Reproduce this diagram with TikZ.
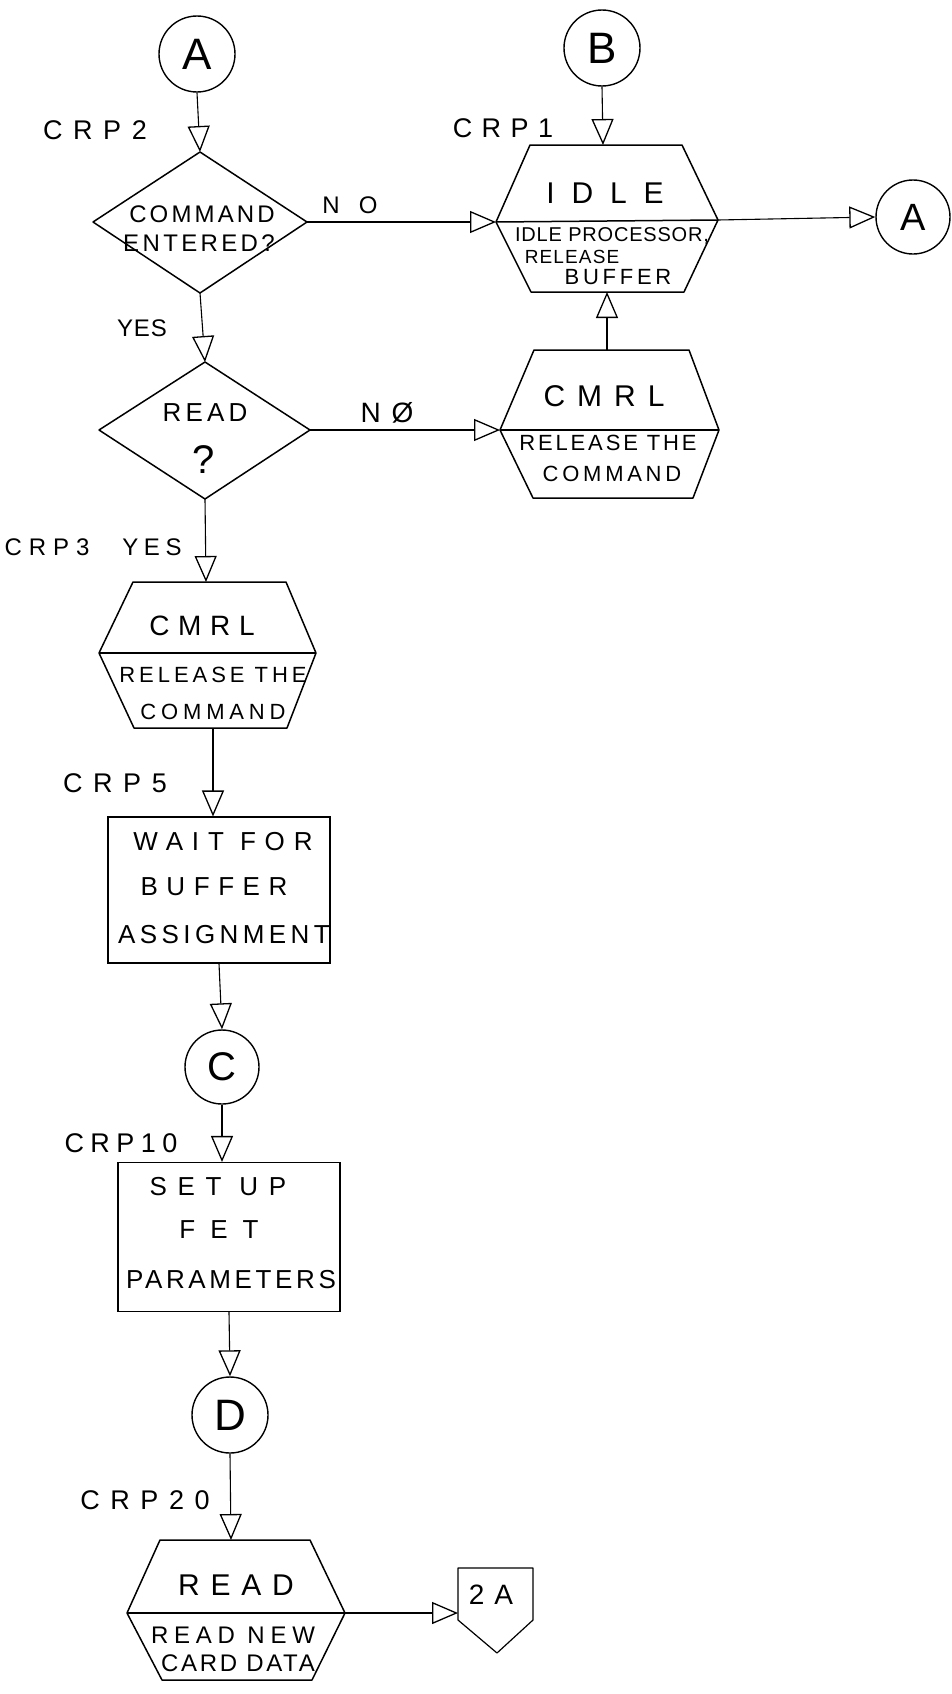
\documentclass[tikz,border=0pt]{standalone}
\usepackage{fontspec}
\usetikzlibrary{arrows.meta}
\newfontfamily\hand{Liberation Sans}
\newcommand{\handtxt}[3]{{\hand\fontsize{#1}{#1}\selectfont\addfontfeatures{LetterSpace=#2}#3}}
\begin{document}
\begin{tikzpicture}[x=1pt,y=-1pt,
  shp/.style={draw, line width=1.5pt, line join=round},
  boxshape/.style={draw, line width=1.1pt, inner sep=0pt},
  ocirc/.style={circle, draw, line width=1.4pt, inner sep=0pt, minimum size=#1},
  conn/.style={draw, line width=1.1pt, -{Triangle[open, length=26pt, width=22pt, line width=1.3pt]}},
  txt/.style={inner sep=0pt, anchor=center}]
\fill[white] (0,0) rectangle (951,1694);
\useasboundingbox (0,0) rectangle (951,1694);

% ---------- connector circles ----------
\node[ocirc=76pt] (cA) at (197,54) {\handtxt{44}{0}{A}};
\node[ocirc=76pt] (cB) at (602,48) {\handtxt{44}{0}{B}};
\node[ocirc=74pt] (cA2) at (913,217) {\handtxt{38}{0}{A}};
\node[ocirc=74pt] (cC) at (222,1067) {\handtxt{40}{0}{C}};
\node[ocirc=76pt] (cD) at (230,1415) {\handtxt{44}{0}{D}};

% ---------- decision 1 ----------
\coordinate (d1N) at (200,152);
\coordinate (d1E) at (307,222);
\coordinate (d1S) at (200,293);
\coordinate (d1W) at (93,222);
\draw[shp] (d1N) -- (d1E) -- (d1S) -- (d1W) -- cycle;
\node[txt] (d1t1) at (202,214) {\handtxt{24}{13}{COMMAND}};
\node[txt] (d1t2) at (199,243) {\handtxt{24}{14}{ENTERED?}};

% ---------- decision 2 ----------
\coordinate (d2N) at (205,362);
\coordinate (d2E) at (310,430);
\coordinate (d2S) at (205,499);
\coordinate (d2W) at (99,430);
\draw[shp] (d2N) -- (d2E) -- (d2S) -- (d2W) -- cycle;
\node[txt] (d2t1) at (205,413) {\handtxt{26}{16}{READ}};
\node[txt] (d2t2) at (204,460) {\handtxt{40}{0}{?}};

% ---------- IDLE ----------
\coordinate (iTL) at (530,145);
\coordinate (iTR) at (682,145);
\coordinate (iR) at (718,220);
\coordinate (iBR) at (684,292);
\coordinate (iBL) at (531,292);
\coordinate (iL) at (496,222);
\coordinate (iT) at (603,145);
\coordinate (iB) at (607,292);
\draw[shp] (iTL) -- (iTR) -- (iR) -- (iBR) -- (iBL) -- (iL) -- cycle;
\draw[shp] (iL) -- (iR);
\node[txt] (it1) at (605,193) {\handtxt{30}{56}{IDLE}};
\node[txt] (it2) at (612,236) {\handtxt{20}{4}{IDLE PROCESSOR,}};
\node[txt] (it3) at (572,257) {\handtxt{19}{6}{RELEASE}};
\node[txt] (it4) at (618,277) {\handtxt{22}{17}{BUFFER}};

% ---------- CMRL (right) ----------
\coordinate (rTL) at (534,350);
\coordinate (rTR) at (689,350);
\coordinate (rR) at (719,430);
\coordinate (rBR) at (693,498);
\coordinate (rBL) at (533,498);
\coordinate (rL) at (500,430);
\coordinate (rT) at (607,350);
\draw[shp] (rTL) -- (rTR) -- (rR) -- (rBR) -- (rBL) -- (rL) -- cycle;
\draw[shp] (rL) -- (rR);
\node[txt] (rt1) at (604,396) {\handtxt{30}{40}{CMRL}};
\node[txt] (rt2) at (608,443) {\handtxt{22}{13}{RELEASE THE}};
\node[txt] (rt3) at (612,474) {\handtxt{22}{17}{COMMAND}};

% ---------- CMRL (left) ----------
\coordinate (lTL) at (133,582);
\coordinate (lTR) at (286,582);
\coordinate (lR) at (316,653);
\coordinate (lBR) at (287,728);
\coordinate (lBL) at (134,728);
\coordinate (lL) at (99,653);
\coordinate (lT) at (206,582);
\coordinate (lB) at (213,728);
\draw[shp] (lTL) -- (lTR) -- (lR) -- (lBR) -- (lBL) -- (lL) -- cycle;
\draw[shp] (lL) -- (lR);
\node[txt] (lt1) at (202,626) {\handtxt{28}{31}{CMRL}};
\node[txt] (lt2) at (213,675) {\handtxt{22}{18}{RELEASE THE}};
\node[txt] (lt3) at (213,712) {\handtxt{22}{22}{COMMAND}};

% ---------- WAIT box ----------
\node[boxshape, minimum width=222pt, minimum height=146pt] (wait) at (219,890) {};
\node[txt] (wt1) at (223,842) {\handtxt{26}{34}{WAIT FOR}};
\node[txt] (wt2) at (214,887) {\handtxt{26}{33}{BUFFER}};
\node[txt] (wt3) at (224,935) {\handtxt{26}{17}{ASSIGNMENT}};

% ---------- SET UP box ----------
\node[boxshape, minimum width=222pt, minimum height=149pt] (setup) at (229,1237) {};
\node[txt] (st1) at (218,1187) {\handtxt{26}{41}{SET UP}};
\node[txt] (st2) at (219,1230) {\handtxt{26}{58}{FET}};
\node[txt] (st3) at (231,1280) {\handtxt{26}{14}{PARAMETERS}};

% ---------- READ ----------
\coordinate (eTL) at (160,1540);
\coordinate (eTR) at (310,1540);
\coordinate (eR) at (345,1613);
\coordinate (eBR) at (312,1680);
\coordinate (eBL) at (162,1680);
\coordinate (eL) at (127,1613);
\coordinate (eT) at (231,1540);
\draw[shp] (eTL) -- (eTR) -- (eR) -- (eBR) -- (eBL) -- (eL) -- cycle;
\draw[shp] (eL) -- (eR);
\node[txt] (et1) at (236,1585) {\handtxt{30}{36}{READ}};
\node[txt] (et2) at (233,1635) {\handtxt{24}{24}{READ NEW}};
\node[txt] (et3) at (238,1663) {\handtxt{24}{11}{CARD DATA}};

% ---------- off-page connector 2A ----------
\coordinate (pTL) at (458,1568);
\coordinate (pTR) at (533,1568);
\coordinate (pRB) at (533,1620);
\coordinate (pBot) at (497,1653);
\coordinate (pLB) at (458,1620);
\coordinate (pIn) at (458,1613);
\draw[shp, line width=1.2pt] (pTL) -- (pTR) -- (pRB) -- (pBot) -- (pLB) -- cycle;
\node[txt] (pt) at (491,1595) {\handtxt{28}{35}{2A}};

% ---------- labels ----------
\node[txt] (lbCRP2) at (95,130) {\handtxt{27}{39}{CRP2}};
\node[txt] (lbCRP1) at (503,128) {\handtxt{27}{35}{CRP1}};
\node[txt] (lbNO) at (350,205) {\handtxt{24}{80}{NO}};
\node[txt] (lbYES1) at (142,328) {\handtxt{24}{4}{YES}};
\node[txt] (lbNO2) at (387,413) {\handtxt{28}{39}{NØ}};
\node[txt] (lbCRP3) at (47,547) {\handtxt{24}{29}{CRP3}};
\node[txt] (lbYES2) at (152,547) {\handtxt{24}{23}{YES}};
\node[txt] (lbCRP5) at (115,783) {\handtxt{27}{39}{CRP5}};
\node[txt] (lbCRP10) at (121,1143) {\handtxt{27}{24}{CRP10}};
\node[txt] (lbCRP20) at (145,1500) {\handtxt{27}{39}{CRP20}};

% ---------- connectors ----------
\draw[conn] (cA.south) -- (d1N);
\draw[conn] (d1E) -- (iL);
\draw[conn] (cB.south) -- (iT);
\draw[conn] (iR) -- (cA2.west);
\draw[conn] (d1S) -- (d2N);
\draw[conn] (d2E) -- (rL);
\draw[conn] (rT) -- (iB);
\draw[conn] (d2S) -- (lT);
\draw[conn] (lB) -- (wait.north -| lB);
\draw[conn] (wait.south) -- (cC.north);
\draw[conn] (cC.south) -- (setup.north -| cC.south);
\draw[conn] (setup.south) -- (cD.north);
\draw[conn] (cD.south) -- (eT);
\draw[conn] (eR) -- (pIn);
\end{tikzpicture}
\end{document}
